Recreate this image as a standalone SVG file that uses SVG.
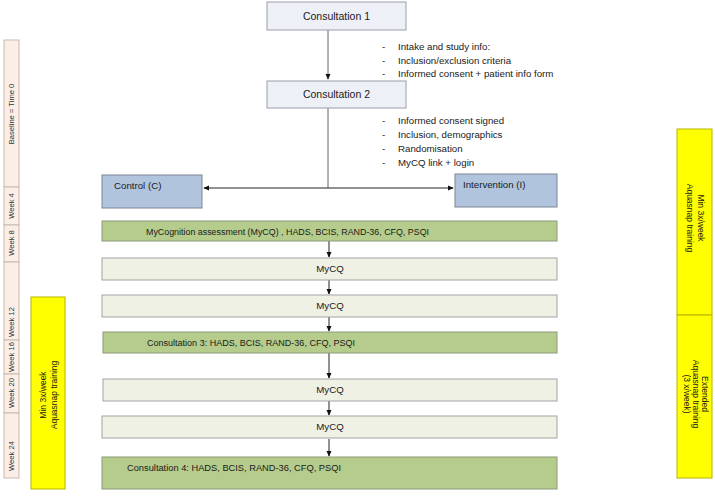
<svg xmlns="http://www.w3.org/2000/svg" width="715" height="496" viewBox="0 0 715 496">
<defs>
<style>
text{font-family:"Liberation Sans",Arial,sans-serif;fill:#1a1a1a}
.t{font-size:9.7px}
.c{font-size:10.5px}
.s{font-size:7.6px;fill:#333}
.y{font-size:8.5px}
.cons{fill:#eef0f8;stroke:#9a9cab;stroke-width:1}
.grp{fill:#b0c4de;stroke:#7d8694;stroke-width:1}
.grn{fill:#b5cc8c;stroke:#8e9a7a;stroke-width:1}
.myc{fill:#eef1e3;stroke:#a3a3a3;stroke-width:1}
.yel{fill:#ffff00;stroke:#b5b500;stroke-width:1}
.tl{fill:#fbeee6;stroke:#c9b9b0;stroke-width:1}
.ln{stroke:#222;stroke-width:1;fill:none}
.gl{stroke:#666;stroke-width:1;fill:none}
</style>
<marker id="ah" viewBox="0 0 8 8" refX="7" refY="4" markerWidth="6" markerHeight="6" orient="auto-start-reverse" markerUnits="userSpaceOnUse">
<path d="M0,0.5 L8,4 L0,7.5 Z" fill="#111"/>
</marker>
</defs>
<rect width="715" height="496" fill="#fff"/>

<!-- timeline -->
<g id="timeline">
<rect class="tl" x="4" y="40" width="15" height="147"/>
<rect class="tl" x="4" y="187" width="15" height="38"/>
<rect class="tl" x="4" y="225" width="15" height="37"/>
<rect class="tl" x="4" y="262" width="15" height="78"/>
<rect class="tl" x="4" y="340" width="15" height="34"/>
<rect class="tl" x="4" y="374" width="15" height="39"/>
<rect class="tl" x="4" y="413" width="15" height="65"/>
<text class="s" text-anchor="middle" transform="translate(14.3,114) rotate(-90)">Baseline = Time 0</text>
<text class="s" text-anchor="middle" transform="translate(14.3,206) rotate(-90)">Week 4</text>
<text class="s" text-anchor="middle" transform="translate(14.3,243) rotate(-90)">Week 8</text>
<text class="s" text-anchor="middle" transform="translate(14.3,322) rotate(-90)">Week 12</text>
<text class="s" text-anchor="middle" transform="translate(14.3,357) rotate(-90)">Week 16</text>
<text class="s" text-anchor="middle" transform="translate(14.3,393) rotate(-90)">Week 20</text>
<text class="s" text-anchor="middle" transform="translate(14.3,456) rotate(-90)">Week 24</text>
</g>

<g id="left-training">
<rect class="yel" x="31" y="297" width="34" height="192"/>
<text class="y" text-anchor="middle" transform="translate(48,395) rotate(-90)"><tspan x="0" y="-2">Min 3x/week</tspan><tspan x="0" y="9">Aquasnap training</tspan></text>
</g>

<g id="right-training">
<rect class="yel" x="677" y="129" width="35" height="186"/>
<rect class="yel" x="677" y="315" width="35" height="163"/>
<text class="y" text-anchor="middle" transform="translate(694.5,218) rotate(90)"><tspan x="0" y="-3">Min 3x/week</tspan><tspan x="0" y="8">Aquasnap  training</tspan></text>
<text class="y" text-anchor="middle" transform="translate(694.5,394) rotate(90)"><tspan x="0" y="-7">Extended</tspan><tspan x="0" y="2">Aquasnap training</tspan><tspan x="0" y="11">(3 x/week)</tspan></text>
</g>

<!-- connectors -->
<g id="connectors">
<line class="gl" x1="328" y1="30" x2="328" y2="79" marker-end="url(#ah)"/>
<line class="gl" x1="328" y1="108" x2="328" y2="188"/>
<line class="ln" x1="204" y1="188" x2="453" y2="188" marker-start="url(#ah)" marker-end="url(#ah)"/>
<line class="ln" x1="329" y1="241" x2="329" y2="257" marker-end="url(#ah)"/>
<line class="ln" x1="329" y1="280" x2="329" y2="294" marker-end="url(#ah)"/>
<line class="ln" x1="329" y1="317" x2="329" y2="331" marker-end="url(#ah)"/>
<line class="ln" x1="329" y1="353" x2="329" y2="378" marker-end="url(#ah)"/>
<line class="ln" x1="329" y1="401" x2="329" y2="415" marker-end="url(#ah)"/>
<line class="ln" x1="329" y1="439" x2="329" y2="456" marker-end="url(#ah)"/>
</g>

<g id="consultation1">
<rect class="cons" x="267" y="2" width="139" height="28"/>
<text class="c" x="336.5" y="20" text-anchor="middle">Consultation 1</text>
</g>
<g id="notes1">
<text class="t" x="382" y="50">-</text><text class="t" x="398" y="50">Intake and study info:</text>
<text class="t" x="382" y="64">-</text><text class="t" x="398" y="64">Inclusion/exclusion criteria</text>
<text class="t" x="382" y="77">-</text><text class="t" x="398" y="77">Informed consent + patient info form</text>
</g>
<g id="consultation2">
<rect class="cons" x="267" y="81" width="139" height="27"/>
<text class="c" x="336.5" y="98" text-anchor="middle">Consultation 2</text>
</g>
<g id="notes2">
<text class="t" x="382" y="124">-</text><text class="t" x="398" y="124">Informed consent signed</text>
<text class="t" x="382" y="138">-</text><text class="t" x="398" y="138">Inclusion, demographics</text>
<text class="t" x="382" y="152">-</text><text class="t" x="398" y="152">Randomisation</text>
<text class="t" x="382" y="166">-</text><text class="t" x="398" y="166">MyCQ link + login</text>
</g>

<g id="control">
<rect class="grp" x="102" y="175" width="100" height="33"/>
<text class="t" x="114" y="189">Control (C)</text>
</g>
<g id="intervention">
<rect class="grp" x="455" y="174" width="102" height="33"/>
<text class="t" x="463" y="188">Intervention (I)</text>
</g>

<g id="baseline-assessment">
<rect class="grn" x="102" y="221" width="455" height="20"/>
<text class="t" x="146" y="235" textLength="283" lengthAdjust="spacingAndGlyphs">MyCognition assessment (MyCQ) , HADS, BCIS, RAND-36, CFQ, PSQI</text>
</g>
<g id="mycq1">
<rect class="myc" x="102" y="258" width="455" height="22"/>
<text class="t" x="330" y="272" text-anchor="middle">MyCQ</text>
</g>
<g id="mycq2">
<rect class="myc" x="102" y="295" width="455" height="22"/>
<text class="t" x="330" y="309" text-anchor="middle">MyCQ</text>
</g>
<g id="consultation3">
<rect class="grn" x="103" y="332" width="454" height="21"/>
<text class="t" x="147" y="346" textLength="208" lengthAdjust="spacingAndGlyphs">Consultation 3:  HADS, BCIS, RAND-36, CFQ, PSQI</text>
</g>
<g id="mycq3">
<rect class="myc" x="103" y="379" width="454" height="22"/>
<text class="t" x="330" y="393" text-anchor="middle">MyCQ</text>
</g>
<g id="mycq4">
<rect class="myc" x="102" y="416" width="455" height="22"/>
<text class="t" x="330" y="430" text-anchor="middle">MyCQ</text>
</g>
<g id="consultation4">
<rect class="grn" x="102" y="457" width="455" height="32"/>
<text class="t" x="127" y="471" textLength="214" lengthAdjust="spacingAndGlyphs">Consultation 4:  HADS, BCIS, RAND-36, CFQ, PSQI</text>
</g>
</svg>
